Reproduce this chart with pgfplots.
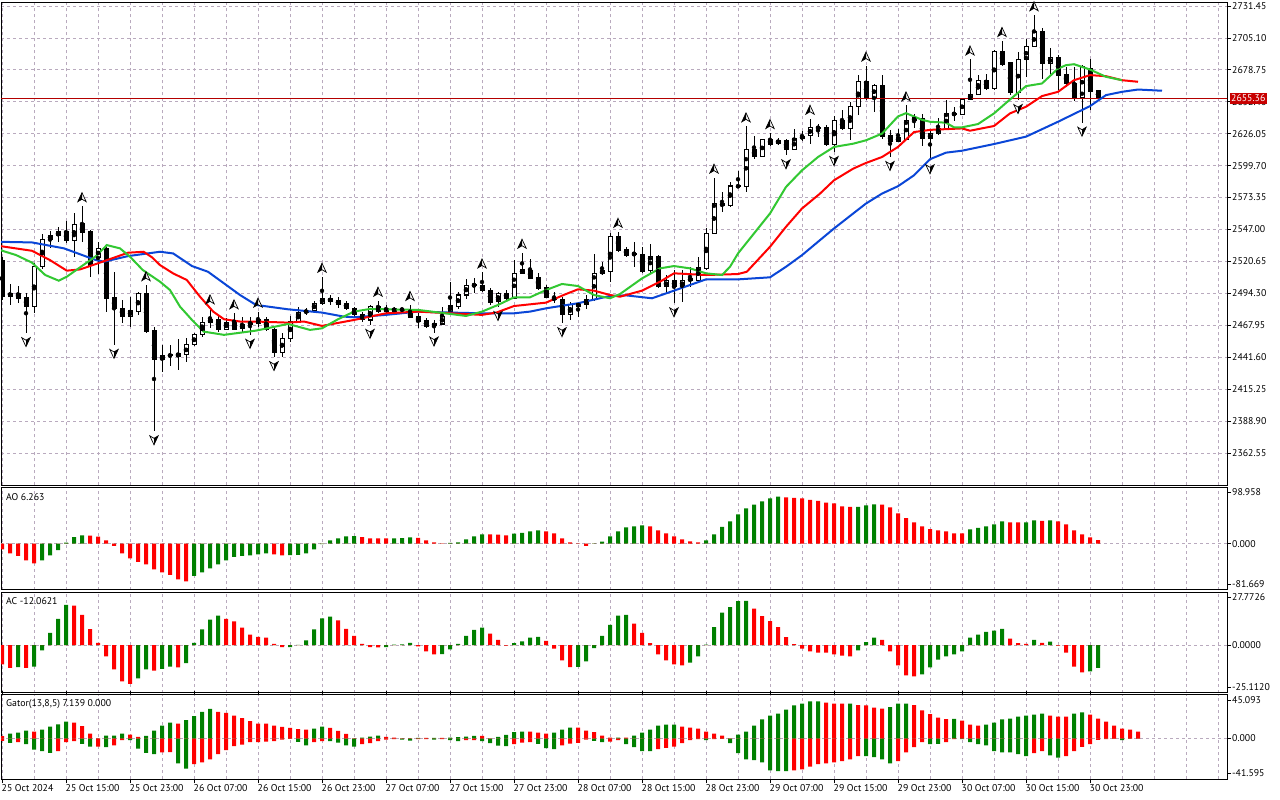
\documentclass[border=0pt]{standalone}
\usepackage{pgfplots}
\pgfplotsset{compat=1.18}
\usepackage{pgfplotstable}
\usepackage{fontspec}
\setmainfont{PT Sans}
\definecolor{gridc}{RGB}{185,170,190}
\definecolor{mgreen}{RGB}{0,128,0}
\definecolor{mred}{RGB}{255,0,0}
\definecolor{jawc}{RGB}{10,70,215}
\definecolor{teethc}{RGB}{255,0,0}
\definecolor{lipsc}{RGB}{50,200,50}
\definecolor{pricec}{RGB}{180,0,0}
\definecolor{tagc}{RGB}{200,0,0}
\newcommand\tf{\fontsize{9.8bp}{11bp}\selectfont}

\pgfdeclareplotmark{fup}{%
  \pgfpathmoveto{\pgfqpoint{0bp}{4.5bp}}%
  \pgfpathlineto{\pgfqpoint{4.2bp}{-4.5bp}}%
  \pgfpathlineto{\pgfqpoint{0bp}{-2bp}}%
  \pgfpathlineto{\pgfqpoint{-4.2bp}{-4.5bp}}%
  \pgfpathclose
  \pgfsetfillcolor{white}\pgfsetlinewidth{0.7bp}\pgfusepath{fill,stroke}%
  \pgfpathmoveto{\pgfqpoint{0bp}{4.5bp}}%
  \pgfpathlineto{\pgfqpoint{0bp}{-2bp}}%
  \pgfpathlineto{\pgfqpoint{-4.2bp}{-4.5bp}}%
  \pgfpathclose
  \pgfsetfillcolor{black}\pgfusepath{fill}%
}
\pgfdeclareplotmark{fdown}{%
  \pgfpathmoveto{\pgfqpoint{0bp}{-4.5bp}}%
  \pgfpathlineto{\pgfqpoint{4.2bp}{4.5bp}}%
  \pgfpathlineto{\pgfqpoint{0bp}{2bp}}%
  \pgfpathlineto{\pgfqpoint{-4.2bp}{4.5bp}}%
  \pgfpathclose
  \pgfsetfillcolor{white}\pgfsetlinewidth{0.7bp}\pgfusepath{fill,stroke}%
  \pgfpathmoveto{\pgfqpoint{0bp}{-4.5bp}}%
  \pgfpathlineto{\pgfqpoint{0bp}{2bp}}%
  \pgfpathlineto{\pgfqpoint{4.2bp}{4.5bp}}%
  \pgfpathclose
  \pgfsetfillcolor{black}\pgfusepath{fill}%
}

\pgfplotstableread{
i o h l c
0 2521.7 2524.0 2489.0 2491.5
1 2492.1 2502.0 2484.7 2494.3
2 2494.3 2500.3 2486.6 2490.2
3 2490.7 2494.3 2461.4 2483.3
4 2483.3 2519.0 2477.8 2516.2
5 2516.2 2543.2 2514.0 2538.8
6 2538.8 2545.9 2531.4 2542.3
7 2542.3 2549.2 2536.8 2545.1
8 2545.1 2554.1 2535.5 2537.7
9 2537.7 2560.2 2524.5 2551.4
10 2551.9 2566.2 2536.8 2544.2
11 2545.1 2546.4 2507.5 2517.6
12 2523.9 2536.8 2510.2 2531.4
13 2531.4 2532.7 2479.2 2490.2
14 2490.7 2512.1 2451.7 2481.9
15 2481.9 2488.8 2470.1 2475.1
16 2475.1 2491.0 2466.8 2479.8
17 2479.2 2495.7 2476.5 2494.3
18 2494.3 2501.0 2461.9 2462.7
19 2463.3 2466.8 2380.4 2439.4
20 2439.4 2451.7 2429.0 2443.0
21 2442.7 2451.7 2433.9 2443.5
22 2442.1 2456.4 2431.2 2444.3
23 2443.5 2457.2 2438.0 2451.7
24 2451.7 2461.9 2450.4 2460.0
25 2460.0 2475.1 2458.6 2470.1
26 2470.1 2481.9 2465.4 2472.9
27 2472.9 2476.5 2462.7 2464.1
28 2464.6 2473.7 2464.1 2470.1
29 2470.1 2477.8 2464.1 2464.6
30 2465.4 2475.1 2461.4 2468.2
31 2468.2 2474.5 2460.0 2470.9
32 2469.6 2479.2 2466.8 2472.3
33 2472.3 2475.1 2463.5 2464.6
34 2464.6 2465.4 2441.6 2445.4
35 2445.4 2461.4 2442.1 2457.2
36 2457.2 2475.6 2454.5 2470.9
37 2470.9 2483.3 2469.6 2478.4
38 2478.4 2482.5 2476.0 2480.0
39 2480.0 2488.2 2479.2 2486.1
40 2486.1 2508.0 2484.7 2490.2
41 2490.2 2492.9 2484.7 2487.4
42 2488.2 2491.5 2481.9 2485.5
43 2486.1 2488.2 2480.6 2481.9
44 2481.9 2482.8 2474.5 2476.5
45 2476.5 2479.2 2471.0 2472.9
46 2472.3 2484.7 2468.2 2483.3
47 2483.3 2488.2 2477.8 2479.2
48 2479.2 2484.7 2477.8 2481.9
49 2481.9 2483.3 2478.4 2479.2
50 2481.0 2482.5 2479.4 2480.6
51 2478.4 2484.7 2473.7 2474.5
52 2475.1 2477.8 2465.4 2471.0
53 2471.8 2473.7 2465.4 2466.8
54 2467.4 2472.3 2461.9 2469.0
55 2469.0 2483.3 2468.2 2475.1
56 2479.2 2503.9 2477.8 2483.8
57 2483.3 2495.7 2481.1 2492.9
58 2492.9 2505.8 2489.4 2501.1
59 2500.9 2507.0 2494.3 2501.4
60 2501.1 2511.5 2495.7 2496.5
61 2497.0 2498.4 2484.7 2486.6
62 2487.4 2495.7 2483.0 2494.3
63 2494.3 2497.0 2488.8 2490.2
64 2490.2 2521.7 2489.4 2510.7
65 2510.7 2527.8 2510.2 2514.1
66 2513.5 2522.3 2505.8 2506.6
67 2507.5 2510.7 2497.0 2498.4
68 2499.2 2501.1 2490.2 2491.0
69 2489.4 2495.7 2486.1 2490.2
70 2489.4 2491.5 2469.6 2476.5
71 2477.0 2487.4 2472.3 2485.2
72 2483.8 2487.4 2474.5 2485.5
73 2485.5 2492.9 2481.1 2489.4
74 2489.4 2526.6 2488.2 2510.7
75 2510.7 2520.4 2509.4 2513.0
76 2512.1 2543.7 2503.9 2541.5
77 2541.5 2545.1 2528.6 2530.0
78 2530.8 2532.7 2524.5 2525.9
79 2526.7 2536.8 2516.2 2527.2
80 2526.7 2532.7 2510.8 2512.1
81 2513.5 2535.4 2510.8 2525.0
82 2525.0 2525.8 2498.4 2499.8
83 2499.8 2509.4 2494.3 2504.7
84 2504.7 2513.5 2486.0 2499.8
85 2499.8 2513.5 2487.4 2504.7
86 2504.7 2515.7 2499.8 2506.4
87 2505.2 2524.0 2503.9 2515.7
88 2514.9 2548.6 2513.5 2543.7
89 2543.7 2589.8 2543.2 2568.4
90 2568.4 2578.0 2561.5 2566.5
91 2567.0 2586.2 2565.6 2582.9
92 2582.1 2595.3 2581.6 2583.2
93 2582.1 2632.1 2578.0 2612.9
94 2612.9 2623.8 2605.5 2607.4
95 2607.4 2621.9 2606.8 2621.1
96 2621.4 2626.6 2615.5 2617.3
97 2617.8 2622.7 2616.4 2620.6
98 2620.6 2621.9 2608.2 2612.9
99 2612.9 2630.2 2612.3 2621.9
100 2621.9 2628.3 2620.0 2624.1
101 2624.7 2638.4 2617.8 2631.0
102 2630.7 2634.3 2623.3 2631.2
103 2631.0 2632.9 2615.6 2617.3
104 2617.3 2640.3 2610.9 2637.0
105 2637.0 2645.3 2629.3 2630.2
106 2630.2 2652.1 2621.1 2648.6
107 2648.6 2674.1 2641.1 2669.4
108 2669.4 2682.3 2654.0 2655.7
109 2655.7 2667.2 2643.9 2665.8
110 2665.8 2674.9 2621.9 2623.8
111 2624.7 2628.8 2606.8 2620.0
112 2620.0 2630.2 2619.2 2622.7
113 2621.1 2649.4 2620.6 2637.0
114 2637.0 2641.9 2631.0 2639.2
115 2638.4 2642.5 2615.6 2621.9
116 2621.9 2630.2 2604.1 2626.0
117 2626.3 2638.7 2624.9 2630.4
118 2630.4 2653.8 2629.1 2642.8
119 2642.0 2647.7 2636.8 2642.8
120 2642.2 2655.1 2641.4 2654.3
121 2654.3 2687.3 2653.8 2658.4
122 2658.4 2674.4 2657.9 2670.2
123 2670.2 2675.2 2662.5 2663.4
124 2663.4 2695.5 2662.5 2693.6
125 2693.6 2702.6 2681.7 2683.4
126 2684.5 2685.3 2657.9 2659.8
127 2659.8 2693.6 2653.8 2687.3
128 2687.3 2704.6 2672.6 2697.7
129 2697.7 2723.8 2697.2 2710.0
130 2710.0 2713.6 2671.5 2684.0
131 2684.0 2697.2 2675.6 2689.0
132 2689.0 2691.0 2662.5 2674.4
133 2675.2 2681.2 2664.2 2667.5
134 2667.5 2681.2 2653.2 2655.1
135 2655.9 2683.0 2635.1 2681.2
136 2679.9 2687.3 2645.5 2660.7
137 2661.5 2661.5 2655.36 2655.36
}\candles

\pgfplotstableread{
i p
10 2566.2
18 2501.0
26 2481.9
29 2477.8
32 2479.2
40 2508.0
47 2488.2
51 2484.7
60 2511.5
65 2527.8
77 2545.1
89 2589.8
93 2632.1
96 2626.6
101 2638.4
108 2682.3
113 2649.4
121 2687.3
125 2702.6
129 2723.8
}\fup

\pgfplotstableread{
i p
3 2461.4
14 2451.7
19 2380.4
31 2460.0
34 2441.6
46 2468.2
54 2461.9
62 2483.0
70 2469.6
84 2486.0
98 2608.2
104 2610.9
111 2606.8
116 2604.1
127 2653.8
135 2635.1
}\fdown

\pgfplotstableread{
i p
-0.25 2536.8
3.75 2536.3
7.75 2531.4
11.75 2521.7
12.75 2520.4
15.75 2525.0
19.75 2528.6
21.4 2527.2
23.75 2516.8
25.75 2512.1
27.75 2502.5
29.75 2492.9
31.75 2484.7
35.75 2481.1
40 2478.4
42.7 2475.1
44 2474.5
48 2476.5
52 2479.2
56 2478.4
60 2477.8
64 2477.8
66 2479.2
68 2481.9
72 2486.1
76 2492.1
78 2492.6
81.25 2490.2
84 2496.5
88 2505.8
92 2505.8
96 2507.5
98 2516.2
100 2525.8
102.25 2538.2
104 2547.8
106.4 2560.2
108 2568.4
110 2576.6
112 2582.7
114 2591.7
116 2605.0
118 2610.4
120 2612.0
124 2617.5
128 2623.6
132 2635.9
136 2648.8
138 2657.9
140 2660.6
142 2662.5
145 2661.5
}\jaw

\pgfplotstableread{
i p
-0.25 2533.3
3.75 2529.4
6 2521.7
8.1 2513.0
9.75 2514.0
11.75 2518.5
15.75 2527.8
17.7 2528.6
18.75 2524.0
19.75 2517.6
21.4 2510.7
23.1 2505.3
24.75 2491.5
26.4 2479.2
27.75 2472.9
29.75 2471.0
31.75 2471.0
35.75 2470.1
37.75 2471.0
40 2467.4
44 2472.3
48 2477.8
52 2479.2
56 2477.8
60 2476.5
61.8 2478.4
64 2483.8
68 2486.6
70.2 2492.9
72 2497.6
74 2496.5
76 2492.9
77.25 2491.5
80 2496.5
82.25 2503.9
84 2510.8
88 2509.4
92 2510.2
93.1 2512.1
96 2532.7
98 2549.2
100 2564.3
102.25 2576.6
104 2587.6
106.4 2597.2
108 2601.9
110 2606.8
112 2615.1
114 2627.4
116 2629.2
120 2630.4
121 2628.5
124 2632.4
126 2642.8
128 2648.3
130 2657.1
132 2660.6
134 2670.2
136 2674.4
138 2673.5
140 2670.2
142 2668.9
}\teeth

\pgfplotstableread{
i p
-0.25 2530.0
1.75 2525.9
3.75 2519.6
5.4 2509.4
7.1 2504.7
8.1 2508.0
9.75 2515.7
11.75 2525.0
13.1 2534.1
14.75 2531.4
16 2524.5
17.6 2513.5
19.75 2503.9
21 2497.0
22.25 2483.3
23.75 2472.3
25.2 2462.7
27.75 2460.0
31.75 2463.5
35.75 2469.0
38.5 2464.1
40 2465.4
42 2472.9
44 2479.2
46 2481.4
48 2481.1
52 2480.6
56 2477.3
58 2475.6
60 2479.2
62 2484.7
64 2491.0
66 2491.0
68 2497.0
70 2502.0
72 2500.3
74 2492.9
76 2490.2
77.25 2493.7
80 2506.6
82.25 2514.9
84 2516.8
86 2514.9
88 2510.8
90 2509.4
91 2516.2
92 2527.2
94 2543.7
96 2560.2
98 2582.1
100 2595.8
102 2606.8
104 2615.1
106.4 2617.8
108 2620.6
110 2626.1
112 2640.3
113 2643.0
115 2637.5
116 2635.9
118 2635.1
119 2631.3
120 2631.3
122 2634.0
124 2642.8
126 2654.3
128 2665.3
130 2667.5
132 2679.8
133 2682.6
134 2683.4
136 2679.0
138 2673.0
140 2670.2
}\lips

\pgfplotstableread{
i v g
0 -10.0 0
1 -17.1 0
2 -21.7 0
3 -29.4 0
4 -34.7 0
5 -29.4 1
6 -20.6 1
7 -11.2 1
8 1.8 1
9 11.7 1
10 14.7 1
11 14.3 0
12 12.3 0
13 5.9 0
14 -4.1 0
15 -17.1 0
16 -25.8 0
17 -32.3 0
18 -36.4 0
19 -45.2 0
20 -50.5 0
21 -55.2 0
22 -62.8 0
23 -66.3 0
24 -56.9 1
25 -50.5 1
26 -43.4 1
27 -36.4 1
28 -29.4 1
29 -23.5 1
30 -21.7 1
31 -20.6 1
32 -18.8 1
33 -17.1 1
34 -18.8 0
35 -20.6 0
36 -20.1 1
37 -19.9 1
38 -17.1 1
39 -10.0 1
40 -0.9 1
41 5.9 1
42 9.4 1
43 13.0 1
44 13.1 1
45 11.7 0
46 9.4 0
47 9.2 0
48 9.1 0
49 9.4 1
50 9.6 1
51 11.2 1
52 10.0 0
53 5.9 0
54 2.3 0
55 0.6 0
56 1.2 1
57 2.3 1
58 7.6 1
59 13.0 1
60 16.4 1
61 16.3 0
62 16.1 0
63 14.7 0
64 17.6 1
65 18.8 1
66 21.7 1
67 23.5 1
68 21.7 0
69 18.2 0
70 9.4 0
71 2.3 0
72 0.6 0
73 -4.1 0
74 0.6 1
75 3.5 1
76 13.0 1
77 21.7 1
78 28.8 1
79 30.6 1
80 32.3 1
81 30.6 0
82 23.5 0
83 18.2 0
84 13.0 0
85 7.6 0
86 4.1 0
87 2.3 0
88 5.9 1
89 16.4 1
90 29.4 1
91 39.3 1
92 51.7 1
93 62.2 1
94 68.7 1
95 74.6 1
96 79.9 1
97 82.8 1
98 81.6 0
99 80.5 0
100 79.9 0
101 77.0 0
102 75.2 0
103 72.2 0
104 71.1 0
105 65.8 0
106 64.6 0
107 64.8 1
108 67.6 1
109 69.3 1
110 68.7 0
111 64.0 0
112 53.5 0
113 45.2 0
114 37.5 0
115 30.6 0
116 25.8 0
117 23.5 0
118 21.7 0
119 18.2 0
120 17.9 0
121 25.3 1
122 27.6 1
123 30.6 1
124 34.1 1
125 39.3 1
126 37.5 0
127 37.4 0
128 37.6 1
129 41.1 1
130 40.0 0
131 41.1 1
132 39.3 0
133 34.1 0
134 23.5 0
135 16.4 0
136 11.2 0
137 6.263 0
}\ao

\pgfplotstableread{
i v g
0 -10.2 0
1 -12.0 0
2 -11.6 1
3 -12.0 0
4 -11.3 1
5 -2.8 1
6 6.5 1
7 13.9 1
8 21.3 1
9 20.8 0
10 16.0 0
11 8.4 0
12 1.2 0
13 -6.0 0
14 -12.8 0
15 -19.2 0
16 -20.4 0
17 -17.6 1
18 -12.8 1
19 -13.4 0
20 -12.5 1
21 -11.3 1
22 -11.8 0
23 -9.5 1
24 1.2 1
25 8.3 1
26 13.4 1
27 15.5 1
28 13.9 0
29 12.5 0
30 9.2 0
31 5.5 0
32 4.4 0
33 3.9 0
34 0.7 0
35 -1.1 0
36 -1.0 1
37 0.1 1
38 2.5 1
39 8.3 1
40 14.1 1
41 15.1 1
42 13.0 0
43 8.6 0
44 4.9 0
45 0.7 0
46 -1.1 0
47 -1.2 0
48 -1.0 1
49 0.2 1
50 0.4 1
51 1.2 1
52 -0.7 0
53 -3.3 0
54 -4.9 0
55 -4.8 1
56 -2.3 1
57 0.7 1
58 4.9 1
59 8.1 1
60 9.2 1
61 6.0 0
62 2.8 0
63 -0.3 0
64 1.1 1
65 2.0 1
66 3.9 1
67 4.4 1
68 2.3 0
69 -1.8 0
70 -8.1 0
71 -11.6 0
72 -11.5 1
73 -8.6 1
74 -1.6 1
75 4.9 1
76 10.7 1
77 15.5 1
78 16.0 1
79 11.3 0
80 6.5 0
81 1.1 0
82 -4.9 0
83 -8.1 0
84 -10.2 0
85 -10.7 0
86 -9.2 1
87 -6.0 1
88 0.2 1
89 9.5 1
90 17.1 1
91 20.1 1
92 23.2 1
93 23.3 1
94 19.2 0
95 15.3 0
96 12.7 0
97 9.5 0
98 4.2 0
99 0.5 0
100 -1.8 0
101 -3.3 0
102 -3.9 0
103 -4.0 0
104 -4.9 0
105 -5.5 0
106 -6.0 0
107 -2.8 1
108 1.6 1
109 3.9 1
110 2.8 0
111 -3.3 0
112 -10.7 0
113 -16.0 0
114 -16.5 0
115 -15.5 1
116 -11.8 1
117 -7.6 1
118 -6.0 1
119 -4.9 1
120 -3.3 1
121 3.9 1
122 5.5 1
123 7.0 1
124 7.6 1
125 8.6 1
126 3.4 0
127 1.1 0
128 0.6 0
129 2.8 1
130 1.2 0
131 1.8 1
132 -0.3 0
133 -3.9 0
134 -11.3 0
135 -14.4 0
136 -13.9 1
137 -12.0621 1
}\ac

\pgfplotstableread{
i up ug dn dg
0 2.4 0 -2.4 0
1 5.1 1 -4.5 1
2 6.2 1 -3.8 0
3 8.2 1 -5.8 1
4 7.2 0 -11.3 1
5 9.3 1 -13.0 1
6 12.3 1 -14.7 1
7 14.7 1 -13.0 0
8 17.5 1 -3.8 0
9 16.5 0 -2.7 0
10 12.7 0 -5.5 1
11 5.1 0 -8.2 1
12 0.3 0 -8.2 0
13 3.1 1 -8.9 1
14 3.1 1 -6.9 0
15 5.1 1 -1.7 0
16 4.1 0 -1.7 1
17 1.7 0 -10.3 1
18 2.7 1 -14.7 1
19 8.2 1 -16.1 1
20 13.4 1 -14.1 0
21 16.5 1 -14.0 0
22 15.4 0 -25.4 1
23 18.9 1 -30.9 1
24 23.0 1 -26.4 0
25 27.4 1 -24.4 0
26 30.5 1 -21.3 0
27 27.4 0 -16.1 0
28 26.4 0 -12.0 0
29 23.7 0 -7.9 0
30 20.9 0 -6.2 0
31 17.8 0 -3.8 0
32 15.4 0 -3.6 0
33 15.3 0 -3.1 0
34 13.4 0 -2.7 0
35 12.0 0 -1.0 0
36 11.0 0 -0.3 0
37 9.6 0 -3.4 1
38 9.3 0 -6.9 1
39 10.3 1 -3.8 0
40 12.3 1 -2.7 0
41 11.0 0 -2.7 1
42 7.9 0 -4.1 1
43 4.8 0 -6.9 1
44 0.3 0 -8.2 1
45 0.9 1 -5.8 0
46 2.1 1 -4.8 0
47 3.1 1 -2.7 0
48 1.7 0 -1.0 0
49 1.0 0 -0.7 0
50 0.3 0 -1.0 1
51 0.2 0 -2.1 1
52 0.7 1 -0.7 0
53 0.7 0 -0.7 0
54 0.8 1 -1.0 1
55 0.7 0 -0.7 0
56 1.0 1 -1.7 1
57 1.4 1 -2.7 1
58 2.1 1 -1.7 0
59 2.7 1 -1.7 0
60 2.7 0 -2.7 1
61 0.2 0 -4.8 1
62 1.7 1 -7.2 1
63 3.8 1 -7.9 1
64 6.5 1 -5.8 0
65 7.2 1 -4.1 0
66 7.2 0 -3.8 0
67 6.2 0 -5.5 1
68 5.1 0 -9.9 1
69 6.2 1 -11.0 1
70 9.3 1 -6.9 0
71 11.3 1 -5.1 0
72 11.3 0 -4.5 0
73 8.2 0 -1.0 0
74 6.5 0 -2.4 1
75 3.1 0 -3.8 1
76 1.0 0 -3.1 0
77 1.0 1 -1.7 0
78 1.0 0 -5.8 1
79 3.1 1 -8.9 1
80 6.2 1 -13.0 1
81 9.3 1 -13.0 1
82 13.4 1 -11.0 0
83 14.4 1 -9.6 0
84 14.4 1 -8.2 0
85 12.3 0 -4.8 0
86 11.3 0 -1.7 0
87 10.3 0 -0.7 0
88 7.2 0 -1.7 1
89 5.1 0 -0.7 0
90 3.1 0 -0.3 0
91 0.3 0 -4.8 1
92 4.1 1 -15.1 1
93 7.2 1 -21.3 1
94 13.4 1 -22.3 1
95 19.6 1 -24.4 1
96 23.7 1 -32.6 1
97 25.7 1 -33.6 1
98 29.8 1 -33.6 1
99 34.0 1 -32.6 0
100 36.0 1 -31.6 0
101 38.1 1 -28.8 0
102 38.1 1 -26.4 0
103 37.0 0 -25.4 0
104 36.0 0 -24.4 0
105 36.0 0 -23.3 0
106 36.0 1 -21.3 0
107 34.3 0 -18.2 0
108 34.0 0 -18.2 1
109 31.9 0 -19.2 1
110 30.9 0 -21.3 1
111 32.2 1 -25.4 1
112 36.0 1 -23.3 0
113 36.0 1 -14.1 0
114 34.3 0 -8.9 0
115 29.0 0 -3.8 0
116 25.0 0 -5.8 1
117 21.6 0 -5.5 1
118 19.9 0 -3.8 0
119 20.2 1 -0.7 0
120 18.5 0 -0.7 1
121 14.4 0 -3.8 1
122 13.4 0 -5.8 1
123 14.4 1 -6.9 1
124 16.5 1 -13.0 1
125 19.6 1 -14.1 1
126 20.6 1 -14.1 1
127 22.6 1 -16.1 1
128 23.7 1 -18.2 1
129 24.7 1 -15.1 0
130 25.7 1 -13.0 0
131 23.7 0 -17.2 1
132 22.6 0 -19.6 1
133 22.5 0 -18.2 0
134 25.7 1 -13.0 0
135 26.8 1 -8.6 0
136 24.7 0 -5.8 0
137 20.6 0 -1.4 0
138 17.5 0 -0.7 0
139 13.4 0 -0.3 0
140 10.3 0 -1.7 1
141 9.3 0 0 0
142 7.139 0 0 0
}\gator

\pgfplotsset{
  panel/.style={scale only axis, anchor=south west, width=1226bp,
    xmin=-0.125, xmax=153.125,
    axis line style={line width=1bp},
    xtick={0,4,...,152}, xticklabels={}, xmajorgrids, xtick style={draw=none},
    grid style={gridc, line width=0.8bp, dash pattern=on 3bp off 3bp},
    ytick pos=right, yticklabel pos=right, tick align=outside,
    major tick length=4bp,
    ytick style={black, line width=0.8bp},
    yticklabel style={font=\tf, anchor=west, inner sep=0pt, xshift=1bp},
  },
  hbar/.style={ybar, bar width=4bp, bar shift=0pt, draw=none, fill=#1},
  zline/.style={gridc, line width=0.8bp, dash pattern=on 3bp off 3bp},
}

\begin{document}
\begin{tikzpicture}
\useasboundingbox (0,0) rectangle (1280bp,800bp);
\fill[white] (0,0) rectangle (1280bp,800bp);

% ---------------- main price panel
\begin{axis}[panel, at={(1bp,314.5bp)}, height=483bp,
  ymin=2335.67, ymax=2734.34, ymajorgrids,
  ytick={2362.55,2388.90,2415.25,2441.60,2467.95,2494.30,2520.65,2547.00,2573.35,2599.70,2626.05,2652.40,2678.75,2705.10,2731.45},
  yticklabels={2362.55,2388.90,2415.25,2441.60,2467.95,2494.30,2520.65,2547.00,2573.35,2599.70,2626.05,2652.40,2678.75,2705.10,2731.45}]
\addplot[only marks, mark=none, error bars/.cd, y dir=both, y explicit, error mark=none,
  error bar style={draw=black, line width=1bp, solid}]
  table[x=i, y expr={(\thisrow{h}+\thisrow{l})/2}, y error expr={(\thisrow{h}-\thisrow{l})/2}] {\candles};
\addplot[only marks, mark=none, error bars/.cd, y dir=both, y explicit, error mark=none,
  error bar style={draw=black, line width=5bp, solid}]
  table[x=i, y expr={(\thisrow{o}+\thisrow{c})/2}, y error expr={abs(\thisrow{c}-\thisrow{o})/2+0.45}] {\candles};
\addplot[only marks, mark=none, error bars/.cd, y dir=both, y explicit, error mark=none,
  error bar style={draw=white, line width=3bp, solid}]
  table[x=i, y expr={(\thisrow{o}+\thisrow{c})/2}, y error expr={(\thisrow{c}>\thisrow{o}) ? max(abs(\thisrow{c}-\thisrow{o})/2-0.45,0) : 0}] {\candles};
\addplot[pricec, line width=1bp] coordinates {(-1,2655.36) (160,2655.36)};
\addplot[jawc, line width=2bp] table[x=i,y=p] {\jaw};
\addplot[teethc, line width=2bp] table[x=i,y=p] {\teeth};
\addplot[lipsc, line width=2bp] table[x=i,y=p] {\lips};
\addplot[only marks, mark=fup, mark options={yshift=9bp}] table[x=i,y=p] {\fup};
\addplot[only marks, mark=fdown, mark options={yshift=-9bp}] table[x=i,y=p] {\fdown};
\coordinate (tagpt) at (axis cs:153.125,2655.36);
\end{axis}
\node[fill=tagc, text=white, font=\tf, anchor=west, inner xsep=1.5bp, inner ysep=0bp,
  minimum height=11bp] at ([xshift=2.5bp]tagpt) {2655.36};

% ---------------- AO
\begin{axis}[panel, at={(1bp,210bp)}, height=102.5bp,
  ymin=-81.669, ymax=98.958,
  ytick={-71.1,0,90.5}, yticklabels={-81.669,0.000,98.958}]
\addplot[zline] coordinates {(-1,0) (160,0)};
\addplot[hbar=mgreen] table[x=i, y expr={\thisrow{v}*\thisrow{g}}] {\ao};
\addplot[hbar=mred] table[x=i, y expr={\thisrow{v}*(1-\thisrow{g})}] {\ao};
\node[anchor=west, font=\tf, inner sep=0pt] at ([xshift=5bp,yshift=-9.3bp]rel axis cs:0,1) {AO 6.263};
\end{axis}

% ---------------- AC
\begin{axis}[panel, at={(1bp,107.3bp)}, height=100.2bp,
  ymin=-25.112, ymax=27.7726,
  ytick={-22.26,0,25.24}, yticklabels={-25.1120,0.0000,27.7726}]
\addplot[zline] coordinates {(-1,0) (160,0)};
\addplot[hbar=mgreen] table[x=i, y expr={\thisrow{v}*\thisrow{g}}] {\ac};
\addplot[hbar=mred] table[x=i, y expr={\thisrow{v}*(1-\thisrow{g})}] {\ac};
\node[anchor=west, font=\tf, inner sep=0pt] at ([xshift=5bp,yshift=-8.8bp]rel axis cs:0,1) {AC -12.0621};
\end{axis}

% ---------------- Gator
\begin{axis}[panel, at={(1bp,21bp)}, height=84.3bp,
  ymin=-41.595, ymax=45.093,
  ytick={-35.73,0,39.64}, yticklabels={-41.595,0.000,45.093},
  extra x ticks={0,8,...,136},
  extra x tick labels={25 Oct 2024,25 Oct 15:00,25 Oct 23:00,26 Oct 07:00,26 Oct 15:00,26 Oct 23:00,27 Oct 07:00,27 Oct 15:00,27 Oct 23:00,28 Oct 07:00,28 Oct 15:00,28 Oct 23:00,29 Oct 07:00,29 Oct 15:00,29 Oct 23:00,30 Oct 07:00,30 Oct 15:00,30 Oct 23:00},
  extra x tick style={xtick style={draw=black, line width=0.8bp}, grid=none,
    xticklabel style={font=\tf, anchor=north west, inner sep=0pt, xshift=-0.5bp, yshift=-1bp}}]
\addplot[zline] coordinates {(-1,0) (160,0)};
\addplot[hbar=mgreen] table[x=i, y expr={\thisrow{up}*\thisrow{ug}}] {\gator};
\addplot[hbar=mred] table[x=i, y expr={\thisrow{up}*(1-\thisrow{ug})}] {\gator};
\addplot[hbar=mgreen] table[x=i, y expr={\thisrow{dn}*\thisrow{dg}}] {\gator};
\addplot[hbar=mred] table[x=i, y expr={\thisrow{dn}*(1-\thisrow{dg})}] {\gator};
\node[anchor=west, font=\tf, inner sep=0pt] at ([xshift=5bp,yshift=-9.3bp]rel axis cs:0,1) {Gator(13,8,5) 7.139 0.000};
\end{axis}
\end{tikzpicture}
\end{document}
